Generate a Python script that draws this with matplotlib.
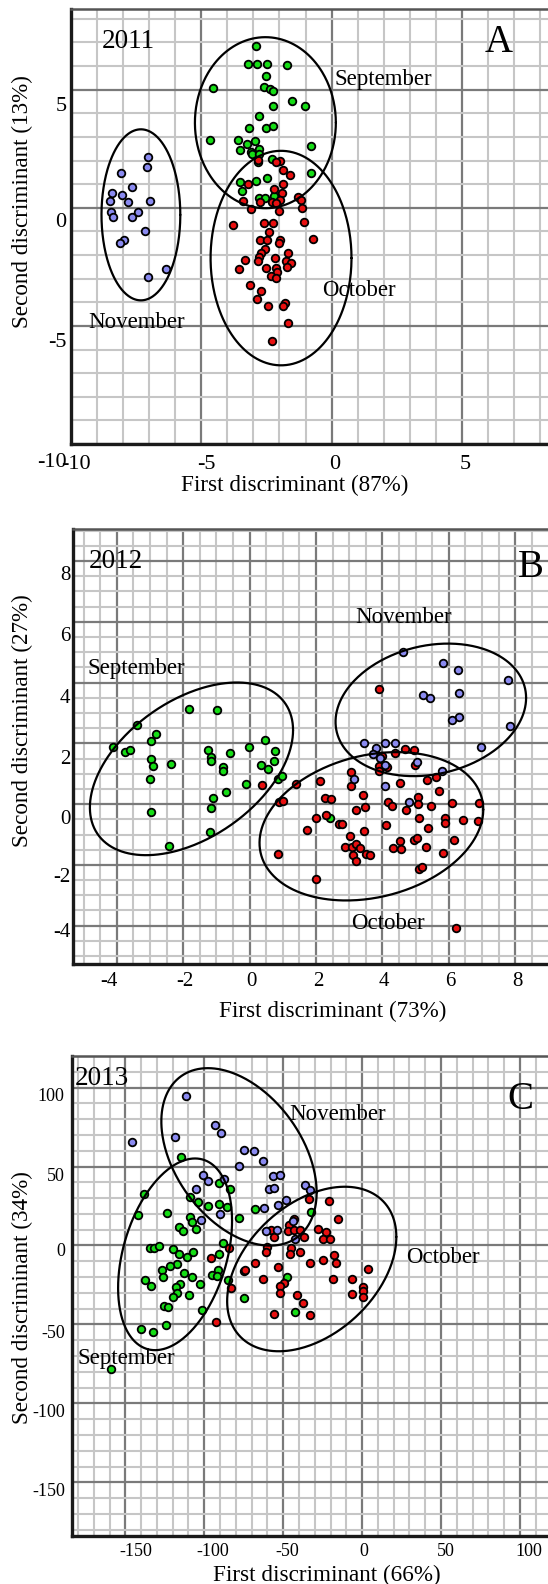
import numpy as np
import matplotlib
matplotlib.use('Agg')
import matplotlib.pyplot as plt
from matplotlib.transforms import ScaledTranslation

plt.rcParams['font.family'] = ['Liberation Serif', 'DejaVu Serif']

# ---------------- DATA ----------------
# Panel A (2011)
a_nov_x = [-7.05, -7.08, -8.08, -7.64, -8.42, -8.02, -8.50, -7.81, -6.97, -8.45,
           -8.39, -7.67, -7.44, -7.17, -7.96, -8.10, -6.35, -7.02]
a_nov_y = [2.13, 1.74, 1.45, 0.89, 0.61, 0.54, 0.28, 0.24, 0.27, -0.18,
           -0.41, -0.38, -0.16, -0.97, -1.37, -1.51, -2.60, -2.95]
a_sep_x = [-2.89, -3.19, -2.87, -2.49, -1.71, -2.50, -4.55, -2.61, -2.36, -2.25,
           -1.53, -1.01, -2.26, -2.80, -3.18, -2.50, -2.25, -4.65, -3.59, -3.25,
           -2.94, -3.52, -3.09, -2.79, -3.07, -2.79, -2.82, -2.29, -0.80, -0.79,
           -3.50, -2.89, -2.48, -3.42, -2.79, -2.56, -2.22]
a_sep_y = [6.85, 6.08, 6.08, 6.08, 6.05, 5.58, 5.08, 5.11, 5.04, 4.94,
           4.53, 4.30, 4.30, 3.89, 3.36, 3.36, 3.47, 2.87, 2.86, 2.70,
           2.84, 2.45, 2.37, 2.47, 2.26, 2.29, 1.92, 2.06, 2.60, 1.47,
           1.09, 1.14, 1.25, 0.71, 0.40, 0.42, 0.51]
a_oct_x = [-2.82, -1.99, -2.15, -1.88, -1.58, -3.22, -2.20, -1.87, -1.90, -3.40,
           -1.99, -1.28, -1.18, -2.73, -2.30, -2.12, -1.12, -3.08, -2.02, -3.78,
           -2.58, -2.25, -2.41, -1.05, -0.72, -2.76, -2.48, -1.99, -2.02, -2.57,
           -2.69, -1.66, -3.33, -2.79, -2.82, -2.17, -1.76, -1.57, -1.71, -3.54,
           -2.50, -2.12, -2.10, -2.33, -2.15, -3.13, -2.69, -2.87, -2.44, -1.77,
           -1.85, -1.67, -2.27]
a_oct_y = [2.02, 1.99, 1.95, 1.58, 1.39, 0.99, 0.79, 0.99, 0.62, 0.28,
           0.31, 0.44, 0.33, 0.23, 0.25, 0.21, -0.01, -0.04, -0.13, -0.73,
           -0.64, -0.64, -1.02, -0.61, -1.33, -1.38, -1.38, -1.37, -1.48, -1.76,
           -1.91, -1.91, -2.23, -2.10, -2.26, -2.13, -2.25, -2.33, -2.50, -2.58,
           -2.55, -2.53, -2.72, -2.88, -2.98, -3.26, -3.52, -3.86, -4.15, -4.04,
           -4.17, -4.86, -5.62]

# Panel B (2012)
b_sep_x = [-4.11, -3.74, -3.60, -3.40, -2.97, -2.82, -2.97, -2.90, -2.99, -2.97,
           -2.36, -2.42, -1.81, -0.99, -1.24, -1.15, -1.17, -0.79, -0.81, -0.60,
           -0.01, -0.10, 0.46, 0.34, 0.56, 0.76, 0.74, 0.86, 0.97, -0.72,
           -1.09, -1.17, -1.20, 2.41]
b_sep_y = [1.88, 1.70, 1.77, 2.60, 2.08, 2.32, 1.49, 1.26, 0.84, -0.27,
           1.32, -1.37, 3.14, 3.10, 1.77, 1.55, 1.43, 1.23, 1.09, 1.69,
           1.88, 0.65, 2.12, 1.30, 1.16, 1.74, 1.43, 0.84, 0.93, 0.39,
           0.21, -0.13, -0.91, -0.46]
b_oct_x = [3.89, 4.68, 4.96, 4.39, 3.99, 3.89, 3.90, 4.14, 4.97, 3.06,
           3.07, 0.37, 1.39, 2.11, 0.90, 1.01, 2.28, 2.46, 3.43, 3.49,
           3.22, 4.16, 4.30, 4.52, 5.34, 5.61, 5.71, 5.08, 5.07, 4.71,
           5.47, 6.09, 6.90, 2.01, 2.29, 2.68, 2.78, 1.74, 3.45, 4.10,
           5.09, 5.89, 5.90, 6.43, 6.87, 5.39, 3.02, 2.88, 3.10, 3.22,
           3.32, 3.12, 3.20, 3.50, 3.62, 4.52, 4.32, 4.56, 4.96, 5.05,
           5.31, 6.15, 5.84, 0.87, 5.11, 5.20, 1.99, 6.23]
b_oct_y = [3.78, 1.80, 1.77, 1.67, 1.58, 1.25, 1.10, 1.23, 1.29, 1.05,
           0.59, 0.63, 0.66, 0.75, 0.07, 0.09, 0.20, 0.18, 0.29, -0.09,
           -0.20, 0.08, -0.07, 0.68, 0.78, 0.90, 0.42, 0.22, 0.01, -0.18,
           -0.07, 0.04, 0.03, -0.47, -0.36, -0.65, -0.65, -0.85, -0.88, -0.70,
           -0.45, -0.45, -0.62, -0.52, -0.56, -0.79, -1.05, -1.40, -1.40, -1.31,
           -1.44, -1.66, -1.86, -1.63, -1.67, -1.22, -1.44, -1.47, -1.18, -1.13,
           -1.40, -1.18, -1.60, -1.65, -2.15, -2.07, -2.48, -4.09]
b_nov_x = [4.61, 5.82, 6.29, 5.21, 5.45, 6.30, 6.30, 6.09, 6.97, 3.46,
           3.80, 4.08, 4.39, 3.73, 3.94, 4.09, 5.03, 5.81, 3.14, 4.09,
           4.80, 7.79, 7.85]
b_nov_y = [4.99, 4.63, 4.41, 3.58, 3.49, 3.64, 2.88, 2.76, 1.87, 2.01,
           1.84, 2.02, 2.01, 1.65, 1.52, 1.27, 1.40, 1.08, 0.81, 0.59,
           0.08, 4.08, 2.58]

# Panel C (2013)
c_nov_x = [-111.6, -145.6, -118.5, -93.3, -89.5, -75.0, -78.2, -101.1, -97.9, -87.4,
           -105.0, -90.1, -102.1, -62.5, -56.6, -52.3, -59.1, -55.9, -36.0, -32.8,
           -48.1, -53.4, -61.9, -43.9, -60.8, -54.0, -42.4, -68.3]
c_nov_y = [94.7, 65.3, 68.6, 76.1, 71.0, 60.6, 50.4, 44.5, 40.9, 42.2,
           35.6, 19.9, 16.1, 53.4, 43.9, 44.9, 35.9, 36.7, 38.2, 35.4,
           29.1, 25.7, 23.8, 15.4, 9.1, 10.1, 3.8, 59.6]
c_sep_x = [-114.9, -138.4, -142.0, -123.5, -109.2, -103.8, -97.5, -90.5, -83.6, -90.5,
           -85.3, -78.2, -109.2, -107.6, -105.5, -116.0, -113.2, -134.5, -131.7, -129.0,
           -120.0, -115.8, -111.1, -107.4, -88.4, -90.5, -117.4, -121.6, -126.9, -126.1,
           -112.8, -107.8, -102.9, -137.4, -133.8, -115.3, -118.1, -117.4, -119.5, -109.5,
           -125.2, -122.7, -101.7, -124.2, -140.3, -132.6, -159.0, -95.4, -91.6, -92.0,
           -84.9, -74.8, -67.8, -32.4, -47.7, -42.4]
c_sep_y = [55.9, 32.6, 19.1, 20.3, 30.5, 27.5, 25.0, 39.4, 35.8, 26.3,
           24.2, 17.4, 18.2, 14.8, 10.6, 11.4, 9.3, -1.3, -1.3, -0.4,
           -2.1, -5.1, -7.6, -4.4, 1.3, -5.5, -11.9, -13.3, -15.5, -20.1,
           -17.2, -19.7, -24.6, -22.0, -25.8, -24.4, -26.1, -30.3, -32.6, -31.4,
           -38.1, -39.0, -40.9, -50.4, -53.2, -54.7, -78.4, -18.6, -15.5, -19.1,
           -21.6, -33.5, 22.8, 21.3, -19.8, -42.2]
c_oct_x = [-84.5, -96.0, -74.8, -82.8, -92.4, -33.9, -20.8, -15.0, -43.0, -46.2,
           -57.6, -47.0, -43.0, -39.2, -56.1, -37.1, -28.2, -22.7, -25.0, -20.6,
           -60.4, -61.2, -45.3, -45.6, -39.2, -74.4, -67.8, -53.4, -32.8, -24.8,
           -17.6, -16.7, 4.0, -62.5, -49.2, -52.3, -51.9, -18.6, -6.4, 0.4,
           0.4, -6.1, 0.6, -41.3, -37.7, -55.9, -33.1]
c_oct_y = [-1.5, -8.1, -15.9, -26.7, -48.3, 29.7, 28.1, 16.5, 16.9, 12.7,
           10.1, 8.9, 9.7, 9.7, 5.5, 5.5, 10.5, 8.4, 4.4, 4.4,
           -0.8, -4.2, -1.5, -5.7, -4.0, -15.6, -11.4, -13.5, -11.4, -9.3,
           -6.3, -11.2, -15.2, -21.1, -23.6, -25.7, -30.4, -21.1, -21.5, -26.2,
           -28.9, -31.0, -32.7, -31.6, -36.3, -43.7, -44.1]

# Ellipses: (cx, cy, rx, ry, phase-deg)  x=cx+rx*cos t, y=cy+ry*cos(t-phase)
a_ellipses = [(-2.54, 3.60, 2.70, 3.62, 90), (-1.94, -2.13, 2.70, 4.54, 90),
              (-7.31, -0.30, 1.51, 3.62, 90)]
b_ellipses = [(-1.75, 1.16, 3.06, 2.84, 63.4), (5.46, 3.10, 2.87, 2.18, 79.6),
              (3.67, -0.73, 3.37, 2.44, 77.0)]
c_ellipses = [(-118.5, -5.6, 36.1, 60.7, 69.5), (-78.0, 56.1, 49.2, 56.2, 113.6),
              (-31.9, -14.9, 53.6, 52.1, 67.0)]

a_xticks = [-10, -5, 0, 5]
a_yticks = [-10, -5, 0, 5]
b_xticks = [-4, -2, 0, 2, 4, 6, 8]
b_yticks = [-4, -2, 0, 2, 4, 6, 8]
c_xticks = [-150, -100, -50, 0, 50, 100]
c_yticks = [-150, -100, -50, 0, 50, 100]

# ---------------- STYLE ----------------
GREEN = '#16dc16'
RED = '#e81010'
BLUE = '#8a8af0'
W, H = 548, 1584

fig = plt.figure(figsize=(W / 100, H / 100), dpi=100)


def px_rect(left, top, right, bottom):
    return [left / W, 1 - bottom / H, (right - left) / W, (bottom - top) / H]


def offset_labels(labels, offs, axis):
    for lab, d in zip(labels, offs):
        dx, dy = (d, 0) if axis == 'x' else (0, d)
        lab.set_transform(lab.get_transform() +
                          ScaledTranslation(dx / 100, -dy / 100, fig.dpi_scale_trans))


def panel(rect, xlim, ylim, minor, xt, yt, tfs, xoff, yoff, xpad, ypad,
          series, ellipses, texts):
    ax = fig.add_axes(rect)
    ax.set_axisbelow(True)
    ax.set_xticks(np.arange(-400, 400, minor[0]), minor=True)
    ax.set_yticks(np.arange(-400, 400, minor[1]), minor=True)
    ax.set_xticks(xt)
    ax.set_yticks(yt)
    ax.set_xticklabels([str(v) for v in xt])
    ax.set_yticklabels([str(v) for v in yt])
    ax.set_xlim(*xlim)
    ax.set_ylim(*ylim)
    ax.grid(which='minor', color='#c6c6c6', lw=1.5)
    ax.grid(which='major', color='#7a7a7a', lw=1.6)
    ax.tick_params(which='both', length=0, labelsize=tfs)
    ax.tick_params(axis='x', pad=xpad)
    ax.tick_params(axis='y', pad=ypad)
    offset_labels(ax.get_xticklabels(), xoff, 'x')
    offset_labels(ax.get_yticklabels(), yoff, 'y')
    for s in ['left', 'bottom']:
        ax.spines[s].set_linewidth(2.4)
        ax.spines[s].set_color('#1a1a1a')
    ax.spines['top'].set_linewidth(1.8)
    ax.spines['top'].set_color('#555555')
    ax.spines['right'].set_visible(False)
    for (x, y, c) in series:
        ax.scatter(x, y, s=30, c=c, edgecolors='black', linewidths=1.3, zorder=3)
    t = np.linspace(0, 2 * np.pi, 400)
    for (cx, cy, rx, ry, ph) in ellipses:
        ax.plot(cx + rx * np.cos(t), cy + ry * np.cos(t - np.radians(ph)),
                color='black', lw=1.6, zorder=4, solid_capstyle='round')
    for (x, y, s, fs) in texts:
        ax.text(x, y, s, fontsize=fs, ha='center', va='center', zorder=5)
    return ax


# Panel A
panel(px_rect(70.7, 9.3, 548, 444), (-10, 8.29), (-10, 8.40), (1, 1),
      a_xticks, a_yticks, 16, [5, 5, 3, 3], [16, 14, 12, 14], 8, 3,
      [(a_sep_x, a_sep_y, GREEN), (a_oct_x, a_oct_y, RED), (a_nov_x, a_nov_y, BLUE)],
      a_ellipses,
      [(-7.81, 7.03, '2011', 19.5), (1.97, 5.41, 'September', 16.5),
       (1.03, -3.52, 'October', 16.5), (-7.48, -4.87, 'November', 16.5),
       (6.39, 6.99, 'A', 28)])

# Panel B
panel(px_rect(73.3, 529.3, 548, 964), (-5.31, 8.99), (-5.26, 9.04), (0.5, 0.5),
      b_xticks, b_yticks, 15, [-8, 2, 2, 2, 2, 2, 2], [4.5, 10, 13, 13.5, 13.5, 12.5, 12.5],
      6, 2,
      [(b_sep_x, b_sep_y, GREEN), (b_oct_x, b_oct_y, RED), (b_nov_x, b_nov_y, BLUE)],
      b_ellipses,
      [(-4.04, 7.97, '2012', 19.5), (4.63, 6.14, 'November', 16.5),
       (-3.40, 4.47, 'September', 16.5), (4.18, -3.93, 'October', 16.5),
       (8.47, 7.77, 'B', 28)])

# Panel C
panel(px_rect(71.7, 1056, 548, 1536), (-184, 117.8), (-184, 120), (10, 10),
      c_xticks, c_yticks, 13, [10, 8, 4, 1.5, 5, 9], [7, 7, 7, 4, 7.5, 7],
      5, 5,
      [(c_sep_x, c_sep_y, GREEN), (c_oct_x, c_oct_y, RED), (c_nov_x, c_nov_y, BLUE)],
      c_ellipses,
      [(-164.7, 106, '2013', 19.5), (-15.5, 83.2, 'November', 16.5),
       (51, -7.6, 'October', 16.5), (-149.4, -71.5, 'September', 16.5),
       (100.2, 92.6, 'C', 28)])

# axis titles
for (x, y, s) in [(22.7, 201.7, 'Second discriminant (13%)'),
                  (22.7, 721, 'Second discriminant (27%)'),
                  (22.7, 1298, 'Second discriminant (34%)')]:
    fig.text(x / W, 1 - y / H, s, rotation=90, ha='center', va='center', fontsize=16.7)
for (x, y, s) in [(295, 485, 'First discriminant (87%)'),
                  (333, 1011, 'First discriminant (73%)'),
                  (326.7, 1575, 'First discriminant (66%)')]:
    fig.text(x / W, 1 - y / H, s, ha='center', va='center', fontsize=16.7)

fig.savefig('out.png', dpi=100)
